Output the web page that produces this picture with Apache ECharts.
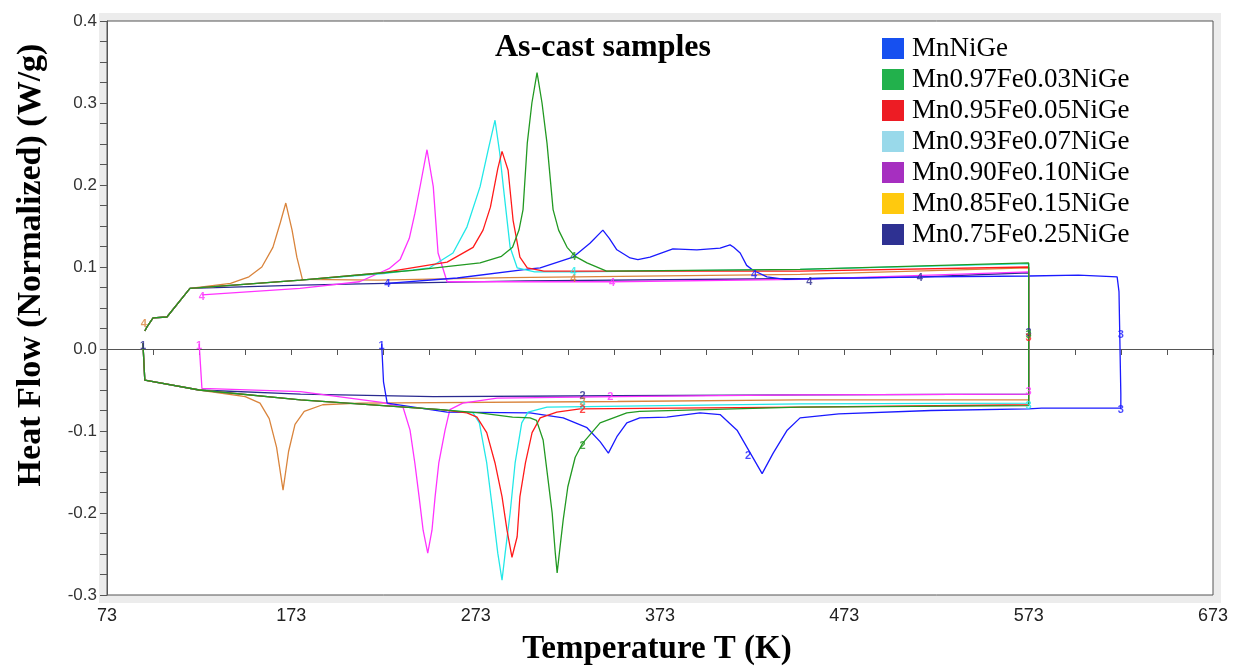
<!DOCTYPE html>
<html>
<head>
<meta charset="utf-8">
<script src="https://cdn.jsdelivr.net/npm/echarts@6/dist/echarts.min.js"></script>
<style>html,body{margin:0;padding:0;background:#fff}#c{width:1239px;height:667px}</style>
</head>
<body>
<div id="c"></div>
<script>
// Legend / sample names
const sampleNames = ['MnNiGe','Mn0.97Fe0.03NiGe','Mn0.95Fe0.05NiGe','Mn0.93Fe0.07NiGe','Mn0.90Fe0.10NiGe','Mn0.85Fe0.15NiGe','Mn0.75Fe0.25NiGe'];
const legendColors = ['#1650f0','#22b14c','#ed1c24','#99d9ea','#a62fc0','#ffc90e','#2e3192'];
const lineColors = ['#1a1aff','#229922','#ff1a1a','#22e8e8','#ff33ff','#d9843c','#2a2a8f'];
const xTicks = [73,173,273,373,473,573,673];
const yTicks = [-0.3,-0.2,-0.1,0.0,0.1,0.2,0.3,0.4];

// [T (K), heat flow (W/g)] - heating branch (segment 2) in path order
const mnBottom = [[222,0.006],[223,-0.040],[225,-0.066],[257.5,-0.077],[302.5,-0.078],[320.5,-0.084],[333.4,-0.096],[340.5,-0.113],[345,-0.127],[349.6,-0.107],[355,-0.090],[362,-0.084],[376.7,-0.083],[394.7,-0.078],[405.6,-0.080],[414.8,-0.099],[422,-0.127],[428.4,-0.152],[434.4,-0.127],[442,-0.099],[449,-0.084],[470,-0.079],[520,-0.075],[573,-0.073],[580,-0.072],[623,-0.072],[623,-0.055],[622,0.070],[621,0.088]];
const mnTop = [[225,0.080],[263,0.0866],[302.5,0.0976],[308,0.099],[325.8,0.112],[335,0.129],[342,0.145],[345.5,0.135],[349.6,0.121],[356.8,0.111],[361,0.109],[367.6,0.112],[380,0.122],[393,0.121],[405.6,0.123],[411,0.127],[413,0.124],[416.5,0.117],[420,0.102],[423.5,0.096],[431,0.088],[441,0.085],[460,0.086],[520,0.088],[573,0.089],[600,0.090],[621,0.090]];

const g03Bottom = [[92.5,0.007],[93.5,-0.038],[123,-0.050],[178,-0.062],[254,-0.074],[275,-0.078],[293,-0.083],[302.5,-0.084],[306,-0.087],[309.6,-0.111],[312.3,-0.160],[314.5,-0.200],[316.2,-0.249],[317.2,-0.273],[318.8,-0.241],[320.5,-0.208],[323,-0.168],[327,-0.132],[331,-0.115],[340.5,-0.090],[355,-0.078],[362,-0.076],[449,-0.071],[573,-0.069]];
const g03Top = [[93.5,0.022],[94.7,0.027],[98,0.038],[105.5,0.039],[118,0.074],[178,0.084],[223,0.093],[239,0.096],[275.4,0.105],[287,0.113],[293,0.124],[296.5,0.145],[298.7,0.170],[301,0.251],[303.5,0.300],[306.3,0.337],[309,0.300],[311.7,0.251],[315,0.170],[318,0.145],[322.6,0.124],[327,0.113],[333.4,0.105],[344,0.095],[449,0.097],[573,0.105]];

const r05Bottom = [[92.5,0.007],[93.5,-0.038],[123,-0.050],[178,-0.062],[254,-0.074],[268.3,-0.078],[273.7,-0.083],[279,-0.102],[283.5,-0.139],[287.3,-0.180],[290,-0.221],[292.7,-0.254],[295.5,-0.229],[297,-0.180],[300,-0.139],[303.6,-0.102],[308,-0.084],[317,-0.077],[329.6,-0.073],[449,-0.071],[573,-0.068]];
const r05Top = [[93.5,0.022],[94.7,0.027],[98,0.038],[105.5,0.039],[118,0.074],[178,0.084],[223,0.093],[230,0.096],[257.5,0.106],[271.6,0.124],[277,0.145],[281,0.173],[285,0.220],[287.3,0.241],[290.6,0.218],[293.3,0.157],[297,0.112],[301,0.099],[310,0.095],[449,0.095],[573,0.100]];

const c07Bottom = [[92.5,0.007],[93.5,-0.038],[123,-0.050],[178,-0.062],[254,-0.074],[271.6,-0.078],[275,-0.090],[279,-0.139],[282.4,-0.200],[285,-0.249],[287.3,-0.282],[289,-0.249],[291.7,-0.200],[294.4,-0.139],[298,-0.090],[301.4,-0.077],[311.7,-0.071],[449,-0.067],[573,-0.066]];
const c07Top = [[93.5,0.022],[94.7,0.027],[98,0.038],[105.5,0.039],[118,0.074],[178,0.084],[223,0.092],[248,0.099],[260.7,0.117],[268.3,0.149],[275.4,0.198],[280,0.245],[283.5,0.279],[286,0.240],[288,0.198],[291.7,0.124],[295.5,0.099],[305,0.094],[326,0.094],[449,0.097],[573,0.104]];

const m10Bottom = [[123,0.006],[124,-0.030],[124.5,-0.048],[178,-0.052],[222,-0.065],[233.6,-0.071],[237.4,-0.099],[240,-0.139],[242.3,-0.180],[244.5,-0.221],[247,-0.249],[249.3,-0.221],[251,-0.180],[253,-0.139],[256.4,-0.099],[259,-0.074],[266,-0.066],[284.6,-0.060],[350,-0.058],[449,-0.056],[573,-0.055]];
const m10Top = [[124.5,0.066],[177.7,0.074],[210,0.082],[221,0.093],[226,0.098],[232,0.109],[237,0.135],[240,0.165],[243,0.200],[246.6,0.243],[250,0.198],[252.6,0.117],[257.5,0.082],[347,0.082],[449,0.085],[573,0.094]];

const o15Bottom = [[92.5,0.007],[93.5,-0.038],[123,-0.050],[148,-0.058],[156,-0.066],[161,-0.085],[165,-0.120],[168.5,-0.172],[171.5,-0.125],[175,-0.092],[180,-0.076],[190,-0.068],[210,-0.066],[350,-0.064],[449,-0.062],[573,-0.062]];
const o15Top = [[93.5,0.022],[94.7,0.027],[98,0.038],[105.5,0.039],[118,0.074],[140,0.080],[150,0.088],[157,0.100],[163,0.124],[167,0.154],[170,0.178],[173.4,0.145],[176,0.112],[179,0.085],[220,0.084],[291,0.087],[449,0.091],[573,0.099]];

const n25Bottom = [[92.5,0.007],[93.5,-0.038],[123,-0.050],[178,-0.055],[250,-0.058],[350,-0.057],[450,-0.056],[573,-0.055]];
const n25Top = [[93.5,0.022],[94.7,0.027],[98,0.038],[105.5,0.039],[118,0.074],[178,0.078],[224,0.080],[300,0.083],[454,0.086],[515,0.088],[573,0.093]];

// segment number labels [T, W/g, text]
const mnMarks = [[222,0.004,'1'],[420.8,-0.130,'2'],[623,0.017,'3'],[623,-0.074,'3'],[225,0.079,'4'],[424,0.090,'4']];
const g03Marks = [[331,-0.118,'2'],[326,0.112,'4'],[573,0.017,'3']];
const r05Marks = [[331,-0.074,'2'],[573,0.014,'3']];
const c07Marks = [[326,0.094,'4'],[331,-0.070,'2'],[573,-0.070,'3']];
const m10Marks = [[123,0.004,'1'],[124.5,0.064,'4'],[347,0.080,'4'],[346,-0.058,'2'],[573,-0.053,'3']];
const o15Marks = [[93,0.030,'4'],[326,0.086,'4'],[331,-0.065,'2']];
const n25Marks = [[92.5,0.004,'1'],[331,-0.057,'2'],[454,0.082,'4'],[514,0.087,'4'],[573,0.020,'3']];

const chart = echarts.init(document.getElementById('c'), null, {renderer:'canvas'});

const curves = [
  {name: sampleNames[6], bottom: n25Bottom, top: n25Top, marks: n25Marks, color: lineColors[6]},
  {name: sampleNames[5], bottom: o15Bottom, top: o15Top, marks: o15Marks, color: lineColors[5]},
  {name: sampleNames[4], bottom: m10Bottom, top: m10Top, marks: m10Marks, color: lineColors[4]},
  {name: sampleNames[0], bottom: mnBottom, top: mnTop, marks: mnMarks, color: lineColors[0]},
  {name: sampleNames[3], bottom: c07Bottom, top: c07Top, marks: c07Marks, color: lineColors[3]},
  {name: sampleNames[2], bottom: r05Bottom, top: r05Top, marks: r05Marks, color: lineColors[2]},
  {name: sampleNames[1], bottom: g03Bottom, top: g03Top, marks: g03Marks, color: lineColors[1]}
];

const series = [];
curves.forEach(c => {
  series.push({
    name: c.name, type: 'line', data: c.bottom.concat(c.top.slice().reverse()),
    showSymbol: false, symbol: 'none', smooth: false,
    lineStyle: {color: c.color, width: 1.3}, itemStyle: {color: c.color},
    emphasis: {disabled: true}, z: 3
  });
  series.push({
    name: c.name + ' marks', type: 'scatter', data: c.marks,
    symbolSize: 1, itemStyle: {color: 'transparent'},
    label: {show: true, position: 'inside', formatter: p => p.data[2],
      color: c.color, fontSize: 11, fontWeight: 'bold', fontFamily: 'Liberation Sans'},
    z: 4, silent: true
  });
});

const fmt = v => (Math.abs(v) < 1e-9 ? 0 : v).toFixed(1);

chart.setOption({
  animation: false,
  backgroundColor: '#fff',
  grid: {left: 107, right: 26, top: 21, bottom: 72, show: true, borderColor: '#555', borderWidth: 1, backgroundColor: '#fff'},
  graphic: [
    {type: 'rect', z: -10, shape: {x: 99, y: 13, width: 1122, height: 590}, style: {fill: '#ececec'}},
    {type: 'text', x: 603, y: 48, style: {text: 'As-cast samples', font: 'bold 32px "Liberation Serif", serif', fill: '#000', textAlign: 'center', textVerticalAlign: 'middle'}},
    {type: 'text', x: 31, y: 265, rotation: Math.PI / 2, style: {text: 'Heat Flow (Normalized) (W/g)', font: 'bold 34px "Liberation Serif", serif', fill: '#000', textAlign: 'center', textVerticalAlign: 'middle'}},
    {type: 'text', x: 657, y: 649, style: {text: 'Temperature T (K)', font: 'bold 33px "Liberation Serif", serif', fill: '#000', textAlign: 'center', textVerticalAlign: 'middle'}}
  ],
  legend: {
    orient: 'vertical', left: 877, top: 30, icon: 'rect', itemWidth: 22, itemHeight: 21, itemGap: 4,
    selectedMode: false,
    textStyle: {fontFamily: '"Liberation Serif", serif', fontSize: 27, lineHeight: 21, color: '#000', padding: [0,0,0,3]},
    data: sampleNames.map((n, i) => ({name: n, itemStyle: {color: legendColors[i]}}))
  },
  xAxis: {
    type: 'value', min: xTicks[0], max: xTicks[xTicks.length - 1], interval: 100,
    axisLine: {show: true, lineStyle: {color: '#555', width: 1}},
    axisTick: {show: true, length: 6, lineStyle: {color: '#555'}},
    minorTick: {show: true, splitNumber: 4, length: 6, lineStyle: {color: '#555'}},
    splitLine: {show: false},
    axisLabel: {margin: 12, color: '#222', fontSize: 18, fontFamily: '"Liberation Sans Narrow", "Liberation Sans", sans-serif', formatter: v => String(Math.round(v))}
  },
  yAxis: {
    type: 'value', min: yTicks[0], max: yTicks[yTicks.length - 1], interval: 0.1,
    axisLine: {show: true, lineStyle: {color: '#555', width: 1}},
    axisTick: {show: true, length: 7, lineStyle: {color: '#555'}},
    minorTick: {show: true, splitNumber: 4, length: 7, lineStyle: {color: '#555'}},
    splitLine: {show: false},
    axisLabel: {margin: 10, color: '#333', fontSize: 17, fontFamily: '"Liberation Sans", Arial, sans-serif', formatter: fmt}
  },
  series: series
});
</script>
</body>
</html>
